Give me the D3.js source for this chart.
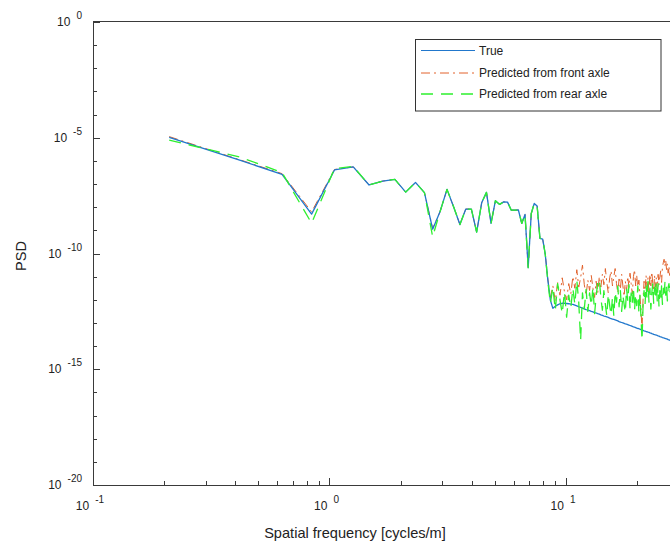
<!DOCTYPE html>
<html>
<head>
<meta charset="utf-8">
<script src="https://cdn.jsdelivr.net/npm/d3@7"></script>
<style>
  html, body { margin: 0; padding: 0; background: #fff; }
  svg { display: block; font-family: "Liberation Sans", Arial, sans-serif; }
</style>
</head>
<body>
<svg id="chart" width="670" height="545"></svg>
<script>
// Spatial frequency grid [cycles/m]
const freq = [
  0.21, 0.42, 0.63, 0.84, 1.05, 1.26, 1.47, 1.68, 1.89, 2.10,
  2.31, 2.52, 2.73, 2.93, 3.14, 3.35, 3.56, 3.77, 3.98, 4.19,
  4.40, 4.61, 4.82, 5.03, 5.24, 5.45, 5.66, 5.87, 6.08, 6.29,
  6.50, 6.71, 6.92, 7.13, 7.34, 7.55, 7.76, 7.97, 8.17, 8.38,
  8.59, 8.80, 9.01, 9.22, 9.43, 9.64, 9.85, 10.06, 10.27, 10.48,
  10.69, 10.90, 11.11, 11.32, 11.53, 11.74, 11.95, 12.16, 12.37, 12.58,
  12.79, 13.00, 13.21, 13.41, 13.62, 13.83, 14.04, 14.25, 14.46, 14.67,
  14.88, 15.09, 15.30, 15.51, 15.72, 15.93, 16.14, 16.35, 16.56, 16.77,
  16.98, 17.19, 17.40, 17.61, 17.82, 18.03, 18.24, 18.45, 18.65, 18.86,
  19.07, 19.28, 19.49, 19.70, 19.91, 20.12, 20.33, 20.54, 20.75, 20.96,
  21.17, 21.38, 21.59, 21.80, 22.01, 22.22, 22.43, 22.64, 22.85, 23.06,
  23.27, 23.48, 23.68, 23.89, 24.10, 24.31, 24.52, 24.73, 24.94, 25.15,
  25.36, 25.57, 25.78, 25.99, 26.20, 26.41, 26.62, 26.83, 27.04, 27.25,
  27.46, 27.67
];

// log10 of the PSD for each series
const trueLog = [
  -4.98, -5.98, -6.58, -8.30, -6.39, -6.26, -7.04, -6.87, -6.80, -7.35,
  -6.93, -7.37, -8.95, -8.21, -7.23, -7.99, -8.75, -8.08, -8.08, -9.08,
  -7.81, -7.36, -8.70, -7.72, -7.88, -7.77, -7.78, -8.13, -8.13, -8.12,
  -8.70, -8.31, -10.61, -8.27, -7.84, -7.95, -9.35, -9.38, -10.03, -11.15,
  -12.02, -12.37, -12.28, -12.22, -12.17, -12.15, -12.15, -12.16, -12.17, -12.19,
  -12.20, -12.23, -12.26, -12.30, -12.33, -12.36, -12.39, -12.42, -12.44, -12.47,
  -12.50, -12.52, -12.55, -12.57, -12.60, -12.62, -12.65, -12.67, -12.70, -12.72,
  -12.74, -12.76, -12.79, -12.81, -12.83, -12.85, -12.87, -12.89, -12.91, -12.94,
  -12.96, -12.98, -13.00, -13.02, -13.04, -13.05, -13.07, -13.09, -13.11, -13.13,
  -13.15, -13.17, -13.18, -13.20, -13.22, -13.24, -13.25, -13.27, -13.29, -13.30,
  -13.32, -13.34, -13.35, -13.37, -13.38, -13.40, -13.41, -13.43, -13.44, -13.46,
  -13.47, -13.49, -13.50, -13.52, -13.53, -13.54, -13.56, -13.57, -13.59, -13.60,
  -13.61, -13.63, -13.64, -13.65, -13.67, -13.68, -13.69, -13.70, -13.72, -13.73,
  -13.74, -13.76
];

const frontLog = [
  -4.95, -5.96, -6.55, -8.20, -6.37, -6.26, -7.04, -6.87, -6.80, -7.35,
  -6.93, -7.37, -8.92, -8.21, -7.23, -7.99, -8.75, -8.08, -8.08, -9.08,
  -7.81, -7.36, -8.70, -7.72, -7.88, -7.77, -7.78, -8.13, -8.13, -8.12,
  -8.70, -8.31, -10.61, -8.27, -7.84, -7.95, -9.35, -9.38, -10.03, -11.10,
  -11.90, -11.40, -12.05, -11.25, -11.80, -11.05, -11.65, -12.00, -11.30, -11.75,
  -11.00, -11.50, -10.70, -11.45, -11.05, -10.50, -11.35, -11.80, -11.15, -11.60,
  -10.95, -11.50, -11.90, -11.20, -11.70, -11.00, -11.45, -10.90, -11.35, -10.65,
  -11.25, -11.70, -11.05, -10.75, -11.40, -11.00, -10.65, -11.30, -11.70, -11.10,
  -11.55, -10.90, -11.40, -11.85, -11.20, -11.60, -11.00, -11.45, -10.85, -11.30,
  -11.75, -11.00, -10.70, -11.40, -10.95, -11.55, -11.15, -11.80, -12.40, -13.30,
  -12.00, -11.20, -11.60, -10.95, -11.45, -11.05, -11.70, -10.90, -11.40, -10.80,
  -11.30, -11.60, -10.95, -11.45, -11.05, -11.55, -10.90, -11.35, -11.00, -10.75,
  -11.25, -10.60, -10.40, -10.25, -10.55, -10.30, -10.70, -10.45, -10.85, -10.55,
  -10.95, -10.65
];

const rearLog = [
  -5.10, -5.84, -6.50, -8.69, -6.33, -6.24, -7.04, -6.87, -6.80, -7.35,
  -6.93, -7.37, -9.28, -8.21, -7.23, -7.99, -8.75, -8.08, -8.08, -9.08,
  -7.81, -7.36, -8.70, -7.72, -7.88, -7.77, -7.78, -8.13, -8.13, -8.12,
  -8.70, -8.31, -10.61, -8.27, -7.84, -7.95, -9.35, -9.38, -10.03, -11.20,
  -12.15, -11.45, -12.45, -11.30, -12.00, -12.60, -11.65, -12.75, -11.80, -12.35,
  -11.50, -12.20, -11.15, -12.10, -13.75, -11.70, -12.40, -11.55, -12.50, -11.70,
  -12.25, -11.45, -12.60, -11.85, -11.25, -11.10, -11.90, -12.45, -11.60, -12.20,
  -12.70, -11.75, -12.25, -12.65, -11.90, -12.70, -11.65, -12.10, -11.40, -12.30,
  -11.60, -12.50, -11.80, -12.20, -12.55, -11.50, -12.05, -11.35, -12.40, -11.70,
  -12.15, -11.45, -12.45, -11.75, -12.25, -11.40, -12.55, -11.80, -12.75, -13.75,
  -12.30, -11.60, -12.20, -11.35, -11.95, -11.20, -12.10, -11.50, -12.40, -11.70,
  -11.30, -12.15, -11.45, -11.90, -11.25, -12.05, -11.30, -12.30, -11.60, -12.00,
  -11.40, -12.20, -11.50, -11.90, -11.25, -11.80, -11.35, -12.05, -11.45, -11.30,
  -11.75, -11.40
];

const seriesNames = ["True", "Predicted from front axle", "Predicted from rear axle"];
const xTickLabels = [{ base: "10", exp: "-1", v: 0.1 }, { base: "10", exp: "0", v: 1 }, { base: "10", exp: "1", v: 10 }];
const yTickLabels = [{ exp: "0", v: 1 }, { exp: "-5", v: 1e-5 }, { exp: "-10", v: 1e-10 }, { exp: "-15", v: 1e-15 }, { exp: "-20", v: 1e-20 }];

(function () {
  const svg = d3.select("#chart");
  const plotLeft = 93, plotTop = 22, plotBottom = 485;
  const W = 670;
  const x = d3.scaleLog().domain([0.1, 30]).range([plotLeft, plotLeft + 236.5 * Math.log10(300)]);
  const y = d3.scaleLog().domain([1e-20, 1]).range([plotBottom, plotTop]);

  const axisColor = "#3a3a3a";
  const textColor = "#222";

  // series
  const toPts = logs => logs.map((v, i) => [freq[i], Math.pow(10, v)]);
  const line = d3.line().x(d => x(d[0])).y(d => y(d[1]));

  svg.append("defs").append("clipPath").attr("id", "plotClip")
    .append("rect").attr("x", plotLeft).attr("y", plotTop).attr("width", W - plotLeft).attr("height", plotBottom - plotTop);

  const plot = svg.append("g").attr("clip-path", "url(#plotClip)");

  const styles = [
    { data: toPts(frontLog), color: "#e2622c", width: 1.0, dash: "9,4,2,4" },
    { data: toPts(trueLog), color: "#2177cc", width: 1.3, dash: null },
    { data: toPts(rearLog), color: "#2ef02e", width: 1.3, dash: "12,8" }
  ];
  styles.forEach(s => {
    plot.append("path")
      .attr("d", line(s.data))
      .attr("fill", "none")
      .attr("stroke", s.color)
      .attr("stroke-width", s.width)
      .attr("stroke-linejoin", "round")
      .attr("stroke-dasharray", s.dash);
  });

  // axes frame
  const frame = svg.append("g").attr("stroke", axisColor).attr("stroke-width", 1).attr("fill", "none");
  frame.append("line").attr("x1", plotLeft + 0.5).attr("x2", plotLeft + 0.5).attr("y1", plotTop).attr("y2", plotBottom);
  frame.append("line").attr("x1", plotLeft).attr("x2", W).attr("y1", plotBottom + 0.5).attr("y2", plotBottom + 0.5);
  frame.append("line").attr("x1", plotLeft).attr("x2", W).attr("y1", plotTop - 0.5).attr("y2", plotTop - 0.5);

  // y ticks: one per decade, longer every five
  d3.range(0, 21).forEach(e => {
    const yy = Math.round(y(Math.pow(10, -e))) + 0.5;
    const len = e % 5 === 0 ? 7 : 4;
    frame.append("line").attr("x1", plotLeft).attr("x2", plotLeft + len).attr("y1", yy).attr("y2", yy);
  });

  // x ticks: decades and 2..9 sub-decades
  const xTickVals = [];
  [0.1, 1, 10].forEach(d => { for (let m = 1; m <= 9; m++) xTickVals.push(d * m); });
  xTickVals.push(20, 30);
  xTickVals.forEach(v => {
    const xx = Math.round(x(v)) + 0.5;
    if (xx > W) return;
    const isMajor = Math.abs(Math.log10(v) - Math.round(Math.log10(v))) < 1e-9;
    const len = isMajor ? 7 : 4;
    frame.append("line").attr("x1", xx).attr("x2", xx).attr("y1", plotBottom).attr("y2", plotBottom - len);
  });

  // tick labels: "10" with a raised exponent
  const yl = svg.append("g").attr("fill", textColor).attr("font-size", 12);
  yTickLabels.forEach(t => {
    const txt = yl.append("text").attr("x", 82).attr("y", y(t.v) + 4).attr("text-anchor", "end");
    txt.append("tspan").text("10");
    txt.append("tspan").attr("dx", 6).attr("dy", -7).attr("font-size", 10).text(t.exp);
  });
  const xl = svg.append("g").attr("fill", textColor).attr("font-size", 12);
  xTickLabels.forEach(t => {
    const txt = xl.append("text").attr("x", x(t.v) - 3).attr("y", 510).attr("text-anchor", "middle");
    txt.append("tspan").text(t.base);
    txt.append("tspan").attr("dx", 6).attr("dy", -7).attr("font-size", 10).text(t.exp);
  });

  // axis titles
  svg.append("text").attr("x", 355).attr("y", 538).attr("text-anchor", "middle")
    .attr("font-size", 14.6).attr("fill", textColor).text("Spatial frequency [cycles/m]");
  svg.append("text").attr("transform", "translate(26,256) rotate(-90)").attr("text-anchor", "middle")
    .attr("font-size", 14.6).attr("fill", textColor).text("PSD");

  // legend
  const lg = svg.append("g");
  lg.append("rect").attr("x", 415.5).attr("y", 39.5).attr("width", 245.5).attr("height", 71.5)
    .attr("fill", "#fff").attr("stroke", "#333").attr("stroke-width", 1);
  const legendRows = [
    { name: seriesNames[0], color: "#2177cc", dash: null, w: 1.2, yy: 50.5 },
    { name: seriesNames[1], color: "#e2622c", dash: "9,4,2,4", w: 1.0, yy: 73 },
    { name: seriesNames[2], color: "#2ef02e", dash: "12,8", w: 1.3, yy: 94 }
  ];
  legendRows.forEach(r => {
    lg.append("line").attr("x1", 421).attr("x2", 475).attr("y1", r.yy).attr("y2", r.yy)
      .attr("stroke", r.color).attr("stroke-width", r.w).attr("stroke-dasharray", r.dash);
    lg.append("text").attr("x", 479).attr("y", r.yy + 4).attr("font-size", 12)
      .attr("fill", textColor).text(r.name);
  });
})();
</script>
</body>
</html>
